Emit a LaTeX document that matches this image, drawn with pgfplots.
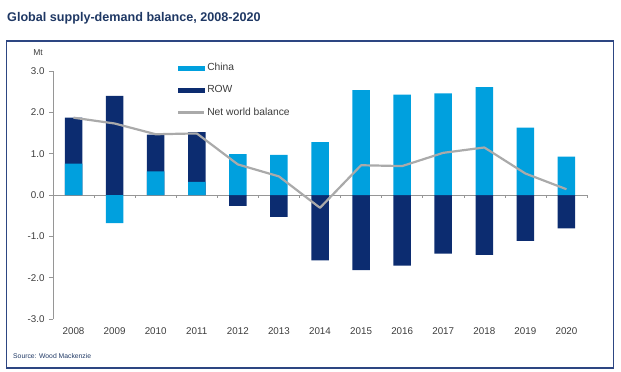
\documentclass[border=0pt]{standalone}
\usepackage{fontspec}
\setmainfont{Liberation Sans}
\usepackage{pgfplots}
\usepackage{pgfplotstable}
\pgfplotsset{compat=1.18}
\definecolor{china}{RGB}{0,160,222}
\definecolor{rowc}{RGB}{12,44,112}
\definecolor{netline}{RGB}{170,170,170}
\definecolor{navy}{RGB}{31,56,100}
\definecolor{framec}{RGB}{45,70,130}
\definecolor{ticktext}{RGB}{60,60,60}
\definecolor{axisc}{RGB}{150,150,150}

\pgfplotstableread{
x year china row net
0 2008 0.76 1.11 1.87
1 2009 -0.68 2.40 1.73
2 2010 0.57 0.89 1.47
3 2011 0.32 1.20 1.49
4 2012 0.99 -0.26 0.74
5 2013 0.97 -0.53 0.45
6 2014 1.28 -1.58 -0.31
7 2015 2.54 -1.82 0.72
8 2016 2.43 -1.71 0.70
9 2017 2.46 -1.42 1.02
10 2018 2.61 -1.45 1.15
11 2019 1.63 -1.11 0.52
12 2020 0.93 -0.81 0.14
}\datatable

\begin{document}
\begin{tikzpicture}
\path[use as bounding box] (0,0) rectangle (621pt,-372pt);
\draw[framec, line width=1.6pt] (6.5pt,-41pt) rectangle (613.5pt,-368pt);
\node[anchor=base west, inner sep=0pt, font=\bfseries\fontsize{12.6}{14}\selectfont, text=navy] at (7pt,-21pt) {Global supply-demand balance, 2008-2020};
\node[anchor=base west, inner sep=0pt, font=\fontsize{6.8}{8}\selectfont, text=navy] at (13pt,-358pt) {Source: Wood Mackenzie};
\node[font=\fontsize{8.5}{9}\selectfont, text=ticktext] at (38pt,-53pt) {Mt};
\begin{axis}[
  at={(53pt,-319pt)}, anchor=south west, scale only axis,
  width=534pt, height=248pt,
  xmin=-0.5, xmax=12.5, ymin=-3, ymax=3,
  axis y line*=left, axis x line*=bottom,
  x axis line style={draw=none},
  y axis line style={axisc, line width=0.6pt},
  xtick={0,...,12},
  xticklabels={2008,2009,2010,2011,2012,2013,2014,2015,2016,2017,2018,2019,2020},
  ytick={-3,-2,-1,0,1,2,3},
  yticklabels={-3.0,-2.0,-1.0,0.0,1.0,2.0,3.0},
  x tick style={draw=none},
  y tick style={axisc, line width=0.6pt},
  tick align=outside, major tick length=4pt,
  tick label style={font=\fontsize{9.8}{11}\selectfont, text=ticktext},
  yticklabel style={xshift=-1pt},
  xticklabel style={yshift=-1.5pt},
  clip=false,
  legend style={at={(0.232,1.04)}, anchor=north west, draw=none, fill=none,
    font=\fontsize{10.3}{12}\selectfont, text=ticktext, inner sep=0pt, row sep=9.5pt,
    /tikz/every even column/.append style={column sep=0pt}},
  legend cell align=left,
]
\addlegendimage{legend image code/.code={\fill[china] (0pt,-2pt) rectangle (26pt,2pt);}}
\addlegendentry{China}
\addlegendimage{legend image code/.code={\fill[rowc] (0pt,-2pt) rectangle (26pt,2pt);}}
\addlegendentry{ROW}
\addlegendimage{legend image code/.code={\draw[netline, line width=2.2pt] (0pt,0pt) -- (26pt,0pt);}}
\addlegendentry{Net world balance}

\draw[axisc, line width=0.6pt] (axis cs:-0.5,0) -- (axis cs:12.5,0);
\pgfplotsinvokeforeach{0.5,1.5,2.5,3.5,4.5,5.5,6.5,7.5,8.5,9.5,10.5,11.5,12.5}{
  \draw[axisc, line width=0.5pt] (axis cs:#1,0) -- ++(0pt,-3pt);
}

\addplot[ybar, bar width=17.5pt, bar shift=0pt, fill=rowc, draw=none, forget plot]
  table[x=x, y expr={(\thisrow{china}*\thisrow{row} > 0) ? (\thisrow{china}+\thisrow{row}) : \thisrow{row}}] {\datatable};
\addplot[ybar, bar width=17.5pt, bar shift=0pt, fill=china, draw=none, forget plot]
  table[x=x, y=china] {\datatable};
\addplot[netline, line width=2.2pt, no markers, sharp plot, line join=round, forget plot]
  table[x=x, y=net] {\datatable};
\end{axis}
\end{tikzpicture}
\end{document}
